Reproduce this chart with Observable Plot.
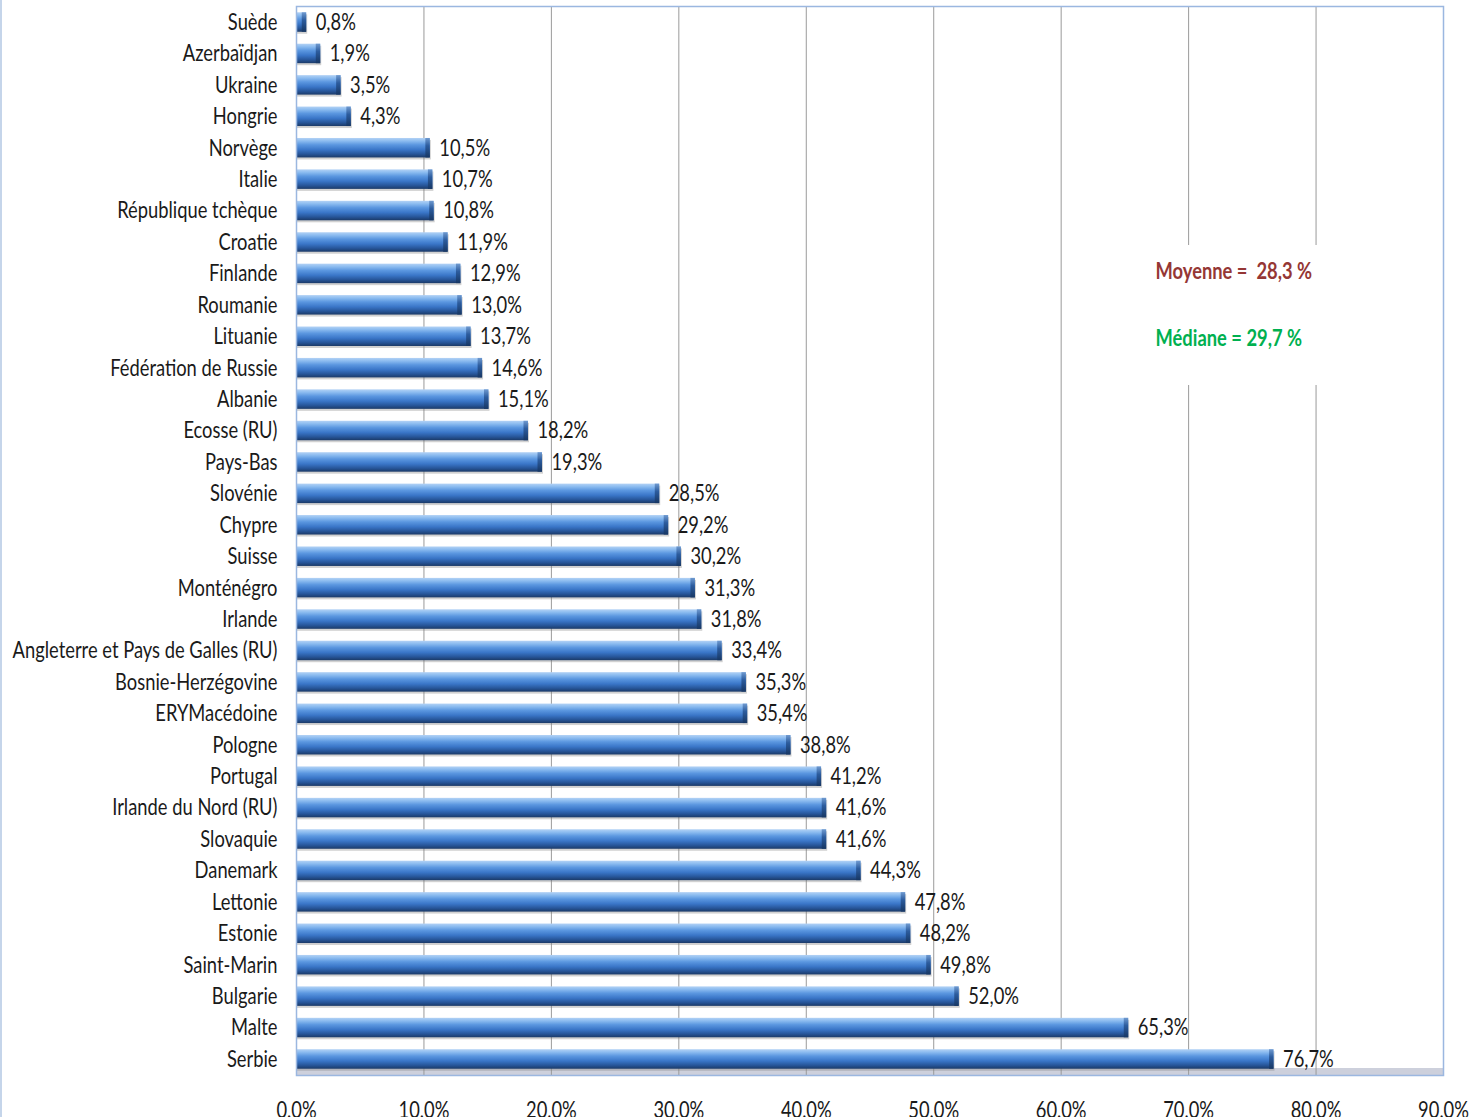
<!DOCTYPE html>
<html><head><meta charset="utf-8">
<script src="https://cdn.jsdelivr.net/npm/d3@7"></script>
<script src="https://cdn.jsdelivr.net/npm/@observablehq/plot@0.6"></script>
<style>
body{margin:0;background:#fff;overflow:hidden}
</style>
</head><body><div id="chart"></div>
<script>
const countries = ["Suède","Azerbaïdjan","Ukraine","Hongrie","Norvège","Italie","République tchèque","Croatie","Finlande","Roumanie","Lituanie","Fédération de Russie","Albanie","Ecosse (RU)","Pays-Bas","Slovénie","Chypre","Suisse","Monténégro","Irlande","Angleterre et Pays de Galles (RU)","Bosnie-Herzégovine","ERYMacédoine","Pologne","Portugal","Irlande du Nord (RU)","Slovaquie","Danemark","Lettonie","Estonie","Saint-Marin","Bulgarie","Malte","Serbie"];
const values = [0.8,1.9,3.5,4.3,10.5,10.7,10.8,11.9,12.9,13.0,13.7,14.6,15.1,18.2,19.3,28.5,29.2,30.2,31.3,31.8,33.4,35.3,35.4,38.8,41.2,41.6,41.6,44.3,47.8,48.2,49.8,52.0,65.3,76.7];
const xTicks = [0,10,20,30,40,50,60,70,80,90];
const annotations = ["Moyenne =  28,3 %", "Médiane = 29,7 %"];

const data = countries.map((c, i) => ({country: c, value: values[i]}));
const fmt = v => v.toFixed(1).replace(".", ",") + "%";

const FONT = "Lato, 'Open Sans', sans-serif";
const FS = 23;
// horizontal condensation factor, measured from the longest label's width in the reference
const ctx = document.createElement("canvas").getContext("2d");
ctx.font = `${FS}px Lato`;
const SX = 265 / ctx.measureText(countries[20]).width;

const plot = Plot.plot({
  width: 1481, height: 1117,
  marginLeft: 296, marginRight: 38, marginTop: 6, marginBottom: 42,
  style: {fontSize: FS + "px", fontFamily: FONT, color: "#1a1a1a", background: "white"},
  x: {domain: [0, 90], ticks: xTicks, tickFormat: fmt, label: null, tickSize: 0, tickPadding: 26},
  y: {domain: countries, label: null, tickSize: 0, tickPadding: 19, paddingInner: 0.38, paddingOuter: 0.2, round: false},
  marks: [
    Plot.ruleX(xTicks.filter(t => t > 0 && t < 90), {stroke: "#9a9a9a", strokeWidth: 1}),
    Plot.barX(data, {x: "value", y: "country", fill: "#7a7a7a", fillOpacity: 0.35, dy: 2, dx: 1}),
    Plot.barX(data, {x: "value", y: "country", fill: "url(#barGrad)"}),
    Plot.barX(data, {x1: d => Math.max(0, d.value - 0.35), x2: "value", y: "country", fill: "url(#capGrad)"}),
    Plot.text(data, {x: "value", y: "country", text: d => fmt(d.value), textAnchor: "start", dx: 9, fontSize: FS, fill: "#1a1a1a"}),
    Plot.text([annotations[0]], {frameAnchor: "top-left", lineAnchor: "middle", dx: 859, dy: 265, textAnchor: "start", fill: "#953735", fontWeight: "bold", fontSize: FS}),
    Plot.text([annotations[1]], {frameAnchor: "top-left", lineAnchor: "middle", dx: 859, dy: 332, textAnchor: "start", fill: "#00b050", fontWeight: "bold", fontSize: FS}),
    Plot.frame({stroke: "#9bb7e0", strokeWidth: 1.5})
  ]
});

const svg = d3.select(plot);
const defs = svg.insert("defs", ":first-child");
const g = defs.append("linearGradient").attr("id", "barGrad").attr("x1", 0).attr("y1", 0).attr("x2", 0).attr("y2", 1);
[[0, "#b3d2f5"], [0.15, "#8cbcf0"], [0.35, "#5b97e0"], [0.6, "#3a76c8"], [0.82, "#27569a"], [1, "#1b3a68"]]
  .forEach(([o, c]) => g.append("stop").attr("offset", o).attr("stop-color", c));
const cg = defs.append("linearGradient").attr("id", "capGrad").attr("x1", 0).attr("y1", 0).attr("x2", 0).attr("y2", 1);
[[0, "#6f9ad0"], [0.4, "#2c5c9e"], [1, "#173764"]]
  .forEach(([o, c]) => cg.append("stop").attr("offset", o).attr("stop-color", c));

// condense every text horizontally around its own anchor
svg.selectAll("text").each(function() {
  const t = d3.select(this);
  const x = +t.attr("x") || 0, y = +t.attr("y") || 0;
  const tr = t.attr("transform") || "";
  if (t.attr("x") != null) t.attr("x", null);
  const yAttr = t.attr("y");
  const yIsEm = yAttr && /em$/.test(yAttr);
  if (!yIsEm && yAttr != null) t.attr("y", null);
  t.attr("transform", `${tr} translate(${x},${yIsEm ? 0 : y}) scale(${SX},1)`);
});

const x0 = 296, x90 = 1443;
// 3D floor under the bars
svg.insert("rect", "g[aria-label='rule']").attr("x", x0).attr("y", 1068).attr("width", x90 - x0).attr("height", 7)
  .attr("fill", "#cdd0dc");
// white backdrop behind the annotations
svg.insert("rect", "g[aria-label='bar']").attr("x", 1140).attr("y", 245).attr("width", 195).attr("height", 140).attr("fill", "white");
// outer chart border at the left edge
svg.append("line").attr("x1", 1).attr("x2", 1).attr("y1", 0).attr("y2", 1117).attr("stroke", "#c5d5ea").attr("stroke-width", 2);

document.getElementById("chart").appendChild(plot);
</script>
</body></html>
